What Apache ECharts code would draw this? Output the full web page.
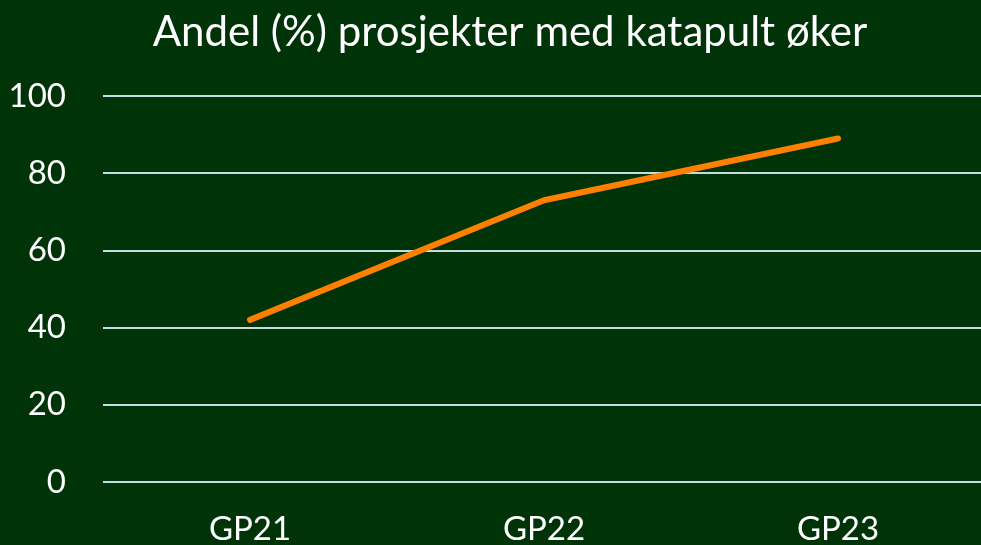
<!DOCTYPE html>
<html>
<head>
<meta charset="utf-8">
<script src="https://cdn.jsdelivr.net/npm/echarts@6/dist/echarts.min.js"></script>
<style>
  html, body { margin: 0; padding: 0; background: #003308; }
  #chart { width: 981px; height: 545px; }
</style>
</head>
<body>
<div id="chart"></div>
<script>
// data
var categories = ['GP21', 'GP22', 'GP23'];
var andel = [42, 73, 89];
var yTicks = [0, 20, 40, 60, 80, 100];

var chart = echarts.init(document.getElementById('chart'));
var option = {
  backgroundColor: '#003308',
  textStyle: { fontFamily: 'Lato, "Open Sans", sans-serif' },
  title: {
    text: 'Andel (%) prosjekter med katapult øker',
    left: 505,
    textAlign: 'center',
    top: 6,
    textStyle: { color: '#ffffff', fontSize: 42, fontWeight: 'normal', fontFamily: 'Lato, "Open Sans", sans-serif' }
  },
  // plot runs past the right edge, like the original
  grid: { left: 103, width: 882, top: 96, bottom: 63, containLabel: false, outerBoundsMode: 'none' },
  xAxis: {
    type: 'category',
    data: categories,
    boundaryGap: true,
    axisLine: { show: false },
    axisTick: { show: false },
    axisLabel: { color: '#ffffff', fontSize: 33, margin: 31 }
  },
  yAxis: {
    type: 'value',
    min: yTicks[0],
    max: yTicks[yTicks.length - 1],
    interval: 20,
    axisLine: { show: false },
    axisTick: { show: false },
    axisLabel: { color: '#ffffff', fontSize: 33, margin: 37 },
    splitLine: { lineStyle: { color: '#c4dcdc', width: 2 } }
  },
  series: [{
    name: 'Andel',
    type: 'line',
    data: andel,
    symbol: 'none',
    lineStyle: { color: '#ff8000', width: 6, cap: 'round', join: 'round' }
  }]
};
chart.setOption(option);
</script>
</body>
</html>
